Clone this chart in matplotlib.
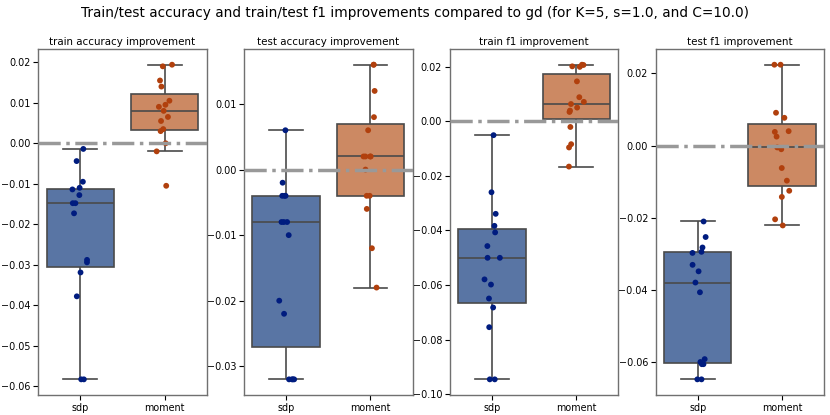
import numpy as np
import pandas as pd
import matplotlib
matplotlib.use("Agg")
import matplotlib.pyplot as plt
import seaborn as sns

methods = ["sdp", "moment"]
titles = ["train accuracy improvement", "test accuracy improvement",
          "train f1 improvement", "test f1 improvement"]

# improvement over gd, 15 runs per method
train_acc_sdp = [-0.0583, -0.0583, -0.0378, -0.0319, -0.0294, -0.0288, -0.0173, -0.0148,
                 -0.0148, -0.0128, -0.0114, -0.0110, -0.0095, -0.0044, -0.0014]
train_acc_moment = [-0.0105, -0.0020, 0.0000, 0.0030, 0.0035, 0.0055, 0.0065, 0.0080,
                    0.0090, 0.0095, 0.0105, 0.0140, 0.0155, 0.0190, 0.0194]
test_acc_sdp = [-0.032, -0.032, -0.032, -0.032, -0.022, -0.020, -0.010, -0.008,
                -0.008, -0.008, -0.004, -0.004, -0.004, -0.002, 0.006]
test_acc_moment = [-0.018, -0.012, -0.006, -0.004, -0.004, 0.000, 0.002, 0.002,
                   0.002, 0.002, 0.006, 0.008, 0.012, 0.016, 0.016]
train_f1_sdp = [-0.0945, -0.0945, -0.0754, -0.0682, -0.0649, -0.0598, -0.0579, -0.0500,
                -0.0500, -0.0457, -0.0407, -0.0383, -0.0339, -0.0260, -0.0051]
train_f1_moment = [-0.0166, -0.0096, -0.0084, -0.0021, 0.0034, 0.0039, 0.0050, 0.0063,
                   0.0071, 0.0088, 0.0146, 0.0199, 0.0201, 0.0206, 0.0207]
test_f1_sdp = [-0.0647, -0.0647, -0.0605, -0.0605, -0.0599, -0.0591, -0.0406, -0.0379,
               -0.0348, -0.0330, -0.0297, -0.0294, -0.0282, -0.0253, -0.0210]
test_f1_moment = [-0.0221, -0.0204, -0.0142, -0.0125, -0.0097, -0.0062, -0.0010, -0.0005,
                  0.0025, 0.0038, 0.0040, 0.0077, 0.0091, 0.0224, 0.0224]

data = [(train_acc_sdp, train_acc_moment), (test_acc_sdp, test_acc_moment),
        (train_f1_sdp, train_f1_moment), (test_f1_sdp, test_f1_moment)]

fig, axes = plt.subplots(1, 4, figsize=(8.3, 4.15), dpi=100)
fig.subplots_adjust(left=0.046, right=0.993, top=0.882, bottom=0.048, wspace=0.22)

np.random.seed(3)
for ax, title, (sdp, moment) in zip(axes, titles, data):
    df = pd.DataFrame({"method": ["sdp"] * len(sdp) + ["moment"] * len(moment),
                       "value": sdp + moment})
    sns.boxplot(data=df, x="method", y="value", hue="method", order=methods,
                palette="deep", showfliers=False, linewidth=1.2,
                linecolor="#4a4a4a", legend=False, ax=ax)
    sns.stripplot(data=df, x="method", y="value", hue="method", order=methods,
                  palette="dark", size=4.2, jitter=0.1, legend=False, ax=ax)
    ax.axhline(0, color="#999999", linestyle="-.", linewidth=2.5, zorder=3)
    ax.set_title(title, fontsize=7.4, pad=3)
    ax.set_xlabel("")
    ax.set_ylabel("")
    ax.tick_params(labelsize=6.9, length=3.5, width=0.8, pad=2)
    for sp in ax.spines.values():
        sp.set_color("#707070")
        sp.set_linewidth(1.0)

fig.suptitle("Train/test accuracy and train/test f1 improvements compared to gd "
             "(for K=5, s=1.0, and C=10.0)", fontsize=9.8, y=0.985)
fig.savefig("out.png")
